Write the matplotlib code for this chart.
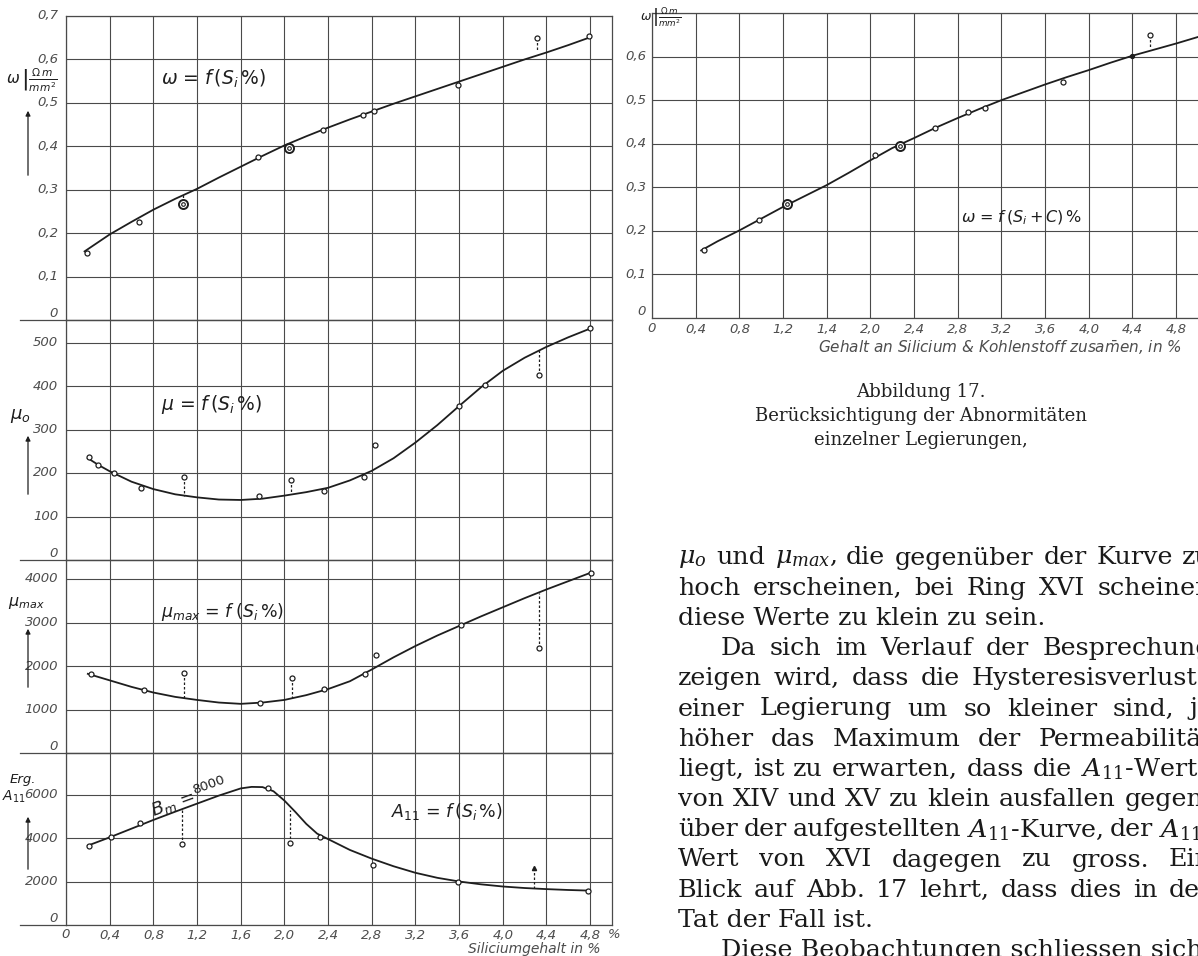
import numpy as np
import matplotlib
matplotlib.use("Agg")
import matplotlib.pyplot as plt
from matplotlib.lines import Line2D
from matplotlib.patches import FancyArrowPatch

plt.rcParams['font.family'] = ['DejaVu Sans']
plt.rcParams['mathtext.fontset'] = 'dejavusans'

W, H = 1198, 956
INK = '#1e1e1e'
GRID = '#4a4a4a'
LAB = '#4d4d4d'

# ---------------- data ----------------
si_ticks = [0, 0.4, 0.8, 1.2, 1.6, 2.0, 2.4, 2.8, 3.2, 3.6, 4.0, 4.4, 4.8]
si_labels = ["0", "0,4", "0,8", "1,2", "1,6", "2,0", "2,4", "2,8", "3,2", "3,6", "4,0", "4,4", "4,8"]
sic_labels = ["0", "0,4", "0,8", "1,2", "1,4", "2,0", "2,4", "2,8", "3,2", "3,6", "4,0", "4,4", "4,8"]

# omega = f(Si %)
om_ticks = [0, 0.1, 0.2, 0.3, 0.4, 0.5, 0.6, 0.7]
om_tick_labels = ["0", "0,1", "0,2", "0,3", "0,4", "0,5", "0,6", "0,7"]
om_cx = [0.17, 0.4, 0.6, 0.8, 1.0, 1.2, 1.4, 1.6, 1.8, 2.0, 2.2, 2.4, 2.6, 2.8,
         3.0, 3.2, 3.4, 3.6, 3.8, 4.0, 4.2, 4.4, 4.6, 4.8]
om_cy = [0.158, 0.197, 0.226, 0.254, 0.279, 0.302, 0.328, 0.353, 0.378, 0.402,
         0.423, 0.443, 0.462, 0.480, 0.498, 0.515, 0.532, 0.549, 0.566, 0.583,
         0.600, 0.616, 0.633, 0.651]
om_px = [0.19, 0.67, 1.76, 2.35, 2.72, 2.82, 3.59, 4.31, 4.79]
om_py = [0.155, 0.226, 0.375, 0.438, 0.472, 0.481, 0.540, 0.650, 0.655]
om_ring_x = [1.07, 2.04]
om_ring_y = [0.266, 0.396]
om_dev_x = [1.07, 4.31]
om_dev_a = [0.287, 0.650]
om_dev_b = [0.272, 0.620]

# mu_0 = f(Si %)
mu0_ticks = [0, 100, 200, 300, 400, 500]
mu0_cx = [0.2, 0.3, 0.4, 0.6, 0.8, 1.0, 1.2, 1.4, 1.6, 1.8, 2.0, 2.2, 2.4, 2.6,
          2.8, 3.0, 3.2, 3.4, 3.6, 3.8, 4.0, 4.2, 4.4, 4.6, 4.8]
mu0_cy = [234, 218, 204, 180, 163, 151, 144, 139, 138, 141, 148, 156, 166, 183,
          205, 234, 270, 310, 354, 397, 435, 465, 490, 512, 532]
mu0_px = [0.21, 0.29, 0.44, 0.69, 1.08, 1.77, 2.06, 2.36, 2.73, 2.83, 3.60, 3.84, 4.33, 4.80]
mu0_py = [236, 218, 200, 165, 191, 146, 185, 159, 191, 265, 354, 402, 425, 533]
mu0_dev_x = [1.08, 2.06, 4.33]
mu0_dev_a = [191, 185, 425]
mu0_dev_b = [146, 152, 485]

# mu_max = f(Si %)
mumax_ticks = [0, 1000, 2000, 3000, 4000]
mumax_cx = [0.2, 0.4, 0.6, 0.8, 1.0, 1.2, 1.4, 1.6, 1.8, 2.0, 2.2, 2.4, 2.6, 2.8,
            3.0, 3.2, 3.4, 3.6, 3.8, 4.0, 4.2, 4.4, 4.6, 4.8]
mumax_cy = [1820, 1670, 1520, 1390, 1290, 1220, 1160, 1130, 1160, 1220, 1330, 1470,
            1650, 1920, 2200, 2460, 2700, 2920, 3140, 3350, 3560, 3760, 3950, 4140]
mumax_px = [0.23, 0.71, 1.08, 1.78, 2.07, 2.36, 2.74, 2.84, 3.62, 4.33, 4.81]
mumax_py = [1823, 1438, 1830, 1146, 1731, 1477, 1815, 2246, 2938, 2415, 4130]
mumax_dev_x = [1.08, 2.07, 4.33]
mumax_dev_a = [1830, 1731, 2415]
mumax_dev_b = [1250, 1230, 3680]

# A_11 = f(Si %)
a11_ticks = [0, 2000, 4000, 6000]
a11_cx = [0.2, 0.4, 0.6, 0.8, 1.0, 1.2, 1.4, 1.6, 1.7, 1.8, 1.9, 2.0, 2.1, 2.2,
          2.3, 2.4, 2.6, 2.8, 3.0, 3.2, 3.4, 3.6, 3.8, 4.0, 4.2, 4.4, 4.6, 4.8]
a11_cy = [3650, 4030, 4430, 4830, 5210, 5580, 5950, 6280, 6350, 6340, 6150, 5720,
          5200, 4650, 4200, 3950, 3450, 3050, 2700, 2400, 2170, 2000, 1870, 1770,
          1700, 1650, 1610, 1580]
a11_px = [0.21, 0.41, 0.68, 1.06, 1.85, 2.05, 2.33, 2.81, 3.59, 4.78]
a11_py = [3628, 4031, 4682, 3705, 6310, 3752, 4062, 2744, 1984, 1581]
a11_dev_x = [1.06, 2.05, 4.29]
a11_dev_a = [3705, 3752, 2636]
a11_dev_b = [5350, 5270, 1690]

# omega = f(Si + C) %
sic_cx = [0.45, 0.6, 0.8, 1.0, 1.2, 1.4, 1.6, 1.8, 2.0, 2.2, 2.4, 2.6, 2.8, 3.0,
          3.2, 3.4, 3.6, 3.8, 4.0, 4.2, 4.4, 4.6, 4.8, 5.0]
sic_cy = [0.155, 0.176, 0.201, 0.228, 0.255, 0.280, 0.305, 0.333, 0.362, 0.390,
          0.413, 0.437, 0.459, 0.480, 0.500, 0.518, 0.536, 0.553, 0.569, 0.586,
          0.602, 0.616, 0.630, 0.645]
sic_px = [0.48, 0.98, 2.04, 2.59, 2.89, 3.05, 3.76, 4.56]
sic_py = [0.155, 0.225, 0.374, 0.437, 0.472, 0.483, 0.542, 0.650]
sic_ring_x = [1.24, 2.27]
sic_ring_y = [0.262, 0.395]
sic_dev_x = [4.56]
sic_dev_a = [0.650]
sic_dev_b = [0.620]

caption = ["Abbildung 17.", "Berücksichtigung der Abnormitäten", "einzelner Legierungen,"]
para = [
    (r"$\mu_o$ und $\mu_{max}$, die gegenüber der Kurve zu", "j", 0),
    ("hoch erscheinen, bei Ring XVI scheinen", "j", 0),
    ("diese Werte zu klein zu sein.", "l", 0),
    ("Da sich im Verlauf der Besprechung", "j", 1),
    ("zeigen wird, dass die Hysteresisverluste", "j", 0),
    ("einer Legierung um so kleiner sind, je", "j", 0),
    ("höher das Maximum der Permeabilität", "j", 0),
    (r"liegt, ist zu erwarten, dass die $A_{11}$-Werte", "j", 0),
    ("von XIV und XV zu klein ausfallen gegen-", "j", 0),
    (r"über der aufgestellten $A_{11}$-Kurve, der $A_{11}$-", "j", 0),
    ("Wert von XVI dagegen zu gross. Ein", "j", 0),
    ("Blick auf Abb. 17 lehrt, dass dies in der", "j", 0),
    ("Tat der Fall ist.", "l", 0),
    ("Diese Beobachtungen schliessen sich an die", "l", 1),
]

# ---------------- figure ----------------
fig = plt.figure(figsize=(W / 100, H / 100), dpi=100)
fig.patch.set_facecolor('white')


def fx(x):
    return x / W


def fy(y):
    return 1 - y / H


def grid_axes(left, top, width, height, ylim, yticks):
    ax = fig.add_axes([fx(left), fy(top + height), width / W, height / H])
    ax.set_xlim(0, 5.0)
    ax.set_ylim(0, ylim)
    ax.set_xticks(si_ticks)
    ax.set_yticks(yticks)
    ax.grid(True, color=GRID, lw=0.8)
    ax.tick_params(length=0, labelleft=False, labelbottom=False)
    for s in ax.spines.values():
        s.set_color(GRID)
        s.set_linewidth(0.9)
    ax.set_facecolor('none')
    return ax


def draw_series(ax, cx, cy, px, py, dx, da, db, rx=None, ry=None):
    ax.plot(cx, cy, color=INK, lw=1.3, zorder=3)
    ax.vlines(dx, da, db, colors=INK, lw=0.9, linestyles=(0, (2, 1.6)), zorder=3)
    ax.plot(px, py, 'o', ms=3.6, mfc='white', mec=INK, mew=0.9, zorder=4)
    if rx is not None:
        ax.plot(rx, ry, 'o', ms=6.5, mfc='white', mec=INK, mew=1.4, zorder=4)
        ax.plot(rx, ry, 'o', ms=2.6, mfc='white', mec=INK, mew=0.8, zorder=5)


def ylabels(ax, ticks, labels, xoff):
    tr = ax.get_yaxis_transform()
    for v, s in zip(ticks, labels):
        ax.text(xoff, v, s, transform=tr, ha='right',
                va='bottom' if v == 0 else 'center',
                fontsize=9.5, style='italic', color=LAB)


def arrow(x, y0, y1):
    fig.add_artist(FancyArrowPatch((fx(x), fy(y0)), (fx(x), fy(y1)),
                                   transform=fig.transFigure, arrowstyle='-|>',
                                   mutation_scale=7, lw=0.9, color=INK))


# left chart: four stacked panels, square grid of ~43.5 px
L, WL, U = 66, 546, 43.5
p1 = grid_axes(L, 16, WL, 304, 0.7, om_ticks)
p2 = grid_axes(L, 320, WL, 240, 240 / U * 100, mu0_ticks)
p3 = grid_axes(L, 560, WL, 193, 193 / U * 1000, mumax_ticks)
p4 = grid_axes(L, 753, WL, 172, 172 / U * 2000, a11_ticks)

draw_series(p1, om_cx, om_cy, om_px, om_py, om_dev_x, om_dev_a, om_dev_b, om_ring_x, om_ring_y)
draw_series(p2, mu0_cx, mu0_cy, mu0_px, mu0_py, mu0_dev_x, mu0_dev_a, mu0_dev_b)
draw_series(p3, mumax_cx, mumax_cy, mumax_px, mumax_py, mumax_dev_x, mumax_dev_a, mumax_dev_b)
draw_series(p4, a11_cx, a11_cy, a11_px, a11_py, a11_dev_x, a11_dev_a, a11_dev_b)
p4.plot([4.29], [2636], marker='^', ms=3, color=INK, zorder=4)

xo = -8 / WL
ylabels(p1, om_ticks, om_tick_labels, xo)
ylabels(p2, mu0_ticks, [str(v) for v in mu0_ticks], xo)
ylabels(p3, mumax_ticks, [str(v) for v in mumax_ticks], xo)
ylabels(p4, a11_ticks, [str(v) for v in a11_ticks], xo)

# separators reaching out to the left margin
for y in (320, 560, 753, 925):
    fig.add_artist(Line2D([fx(20), fx(L)], [fy(y), fy(y)], color=GRID, lw=0.9))

# x tick labels of the left chart
trx = p4.get_xaxis_transform()
for v, s in zip(si_ticks, si_labels):
    p4.text(v, -10 / 172, s, transform=trx, ha='center', va='center',
            fontsize=9.5, style='italic', color=LAB)
p4.text(5.02, -10 / 172, "%", transform=trx, ha='center', va='center',
        fontsize=9.5, style='italic', color=LAB)
fig.text(fx(600), fy(949), "Siliciumgehalt in %", ha='right', va='center',
         fontsize=10, style='italic', color=LAB)

# panel formulas
fs_f = 13.5
p1.text(0.87, 0.555, r"$\omega$ = $f\,(S_i\,\%)$", fontsize=fs_f, va='center', color=INK)
p2.text(0.87, 358, r"$\mu$ = $f\,(S_i\,\%)$", fontsize=fs_f, va='center', color=INK)
p3.text(0.87, 3250, r"$\mu_{max}$ = $f\;(S_i\,\%)$", fontsize=12.5, va='center', color=INK)
p4.text(2.98, 5200, r"$A_{11}$ = $f\,(S_i\,\%)$", fontsize=12.5, va='center', color=INK)
p4.text(0.80, 5000, r"$B_m$ =", fontsize=13, rotation=20, rotation_mode='anchor',
        ha='left', va='baseline', color=INK)
p4.text(1.17, 6000, "8000", fontsize=9.5, rotation=20, rotation_mode='anchor',
        ha='left', va='baseline', color=INK)

# axis quantity labels with arrows
fig.text(fx(6), fy(80), r"$\omega\,\left|\frac{\Omega\,m}{mm^2}\right.$", fontsize=11,
         va='center', ha='left', color=INK)
arrow(28, 178, 108)
fig.text(fx(10), fy(416), r"$\mu_o$", fontsize=13, va='center', ha='left', color=INK)
arrow(28, 497, 433)
fig.text(fx(8), fy(603), r"$\mu_{max}$", fontsize=11.5, va='center', ha='left', color=INK)
arrow(28, 690, 626)
fig.text(fx(10), fy(780), "Erg.", fontsize=9.5, style='italic', va='center', ha='left', color=INK)
fig.text(fx(2), fy(797), r"$A_{11}$", fontsize=10, va='center', ha='left', color=INK)
arrow(28, 872, 814)

# right chart: omega against Si + C
R0 = 652
pr = grid_axes(R0, 13, W - R0, 305, 0.7, om_ticks)
pr.spines['right'].set_visible(False)
draw_series(pr, sic_cx, sic_cy, sic_px, sic_py, sic_dev_x, sic_dev_a, sic_dev_b, sic_ring_x, sic_ring_y)
pr.plot([4.40], [0.602], 'o', ms=2.8, color=INK, zorder=4)
ylabels(pr, om_ticks[:-1], om_tick_labels[:-1], -6 / (W - R0))
trr = pr.get_xaxis_transform()
for v, s in zip(si_ticks, sic_labels):
    pr.text(v, -11 / 305, s, transform=trr, ha='center', va='center',
            fontsize=9.5, style='italic', color=LAB)
fig.text(fx(1000), fy(348), "Gehalt an Silicium & Kohlenstoff zusa$\\bar{m}$en, in %",
         ha='center', va='center', fontsize=11, style='italic', color=LAB)
fig.text(fx(640), fy(18), r"$\omega\,\left|\frac{\Omega\,m}{mm^2}\right.$", fontsize=9,
         va='center', ha='left', color=INK)
pr.text(2.83, 0.229, r"$\omega$ = $f\,(S_i + C)\,\%$", fontsize=11.5, va='center', color=INK)

# ---------------- caption and running text ----------------
renderer = fig.canvas.get_renderer()
SERIF = 'DejaVu Serif'


def text_width(s, size):
    t = fig.text(0, 0, s, fontsize=size, family=SERIF, math_fontfamily='dejavuserif')
    w = t.get_window_extent(renderer).width
    t.remove()
    return w


cap_fs = 10 * 333 / text_width(caption[1], 10)
for i, s in enumerate(caption):
    fig.text(fx(921), fy(392 + 24 * i), s, ha='center', va='center', fontsize=cap_fs,
             family=SERIF, color='#222222')

par_fs = 10 * 368 / text_width(para[2][0], 10)
x_left, x_right, indent = 678, 1212, 43
for i, (line, mode, ind) in enumerate(para):
    y = fy(558 + 30.2 * i)
    x0 = x_left + indent * ind
    if mode == "l":
        fig.text(fx(x0), y, line, ha='left', va='center', fontsize=par_fs,
                 family=SERIF, math_fontfamily='dejavuserif', color='#1a1a1a')
        continue
    words = line.split(" ")
    widths = [text_width(w, par_fs) for w in words]
    gap = (x_right - x0 - sum(widths)) / (len(words) - 1)
    x = x0
    for w, wd in zip(words, widths):
        fig.text(fx(x), y, w, ha='left', va='center', fontsize=par_fs,
                 family=SERIF, math_fontfamily='dejavuserif', color='#1a1a1a')
        x += wd + gap

fig.savefig("out.png", dpi=100, facecolor='white')
